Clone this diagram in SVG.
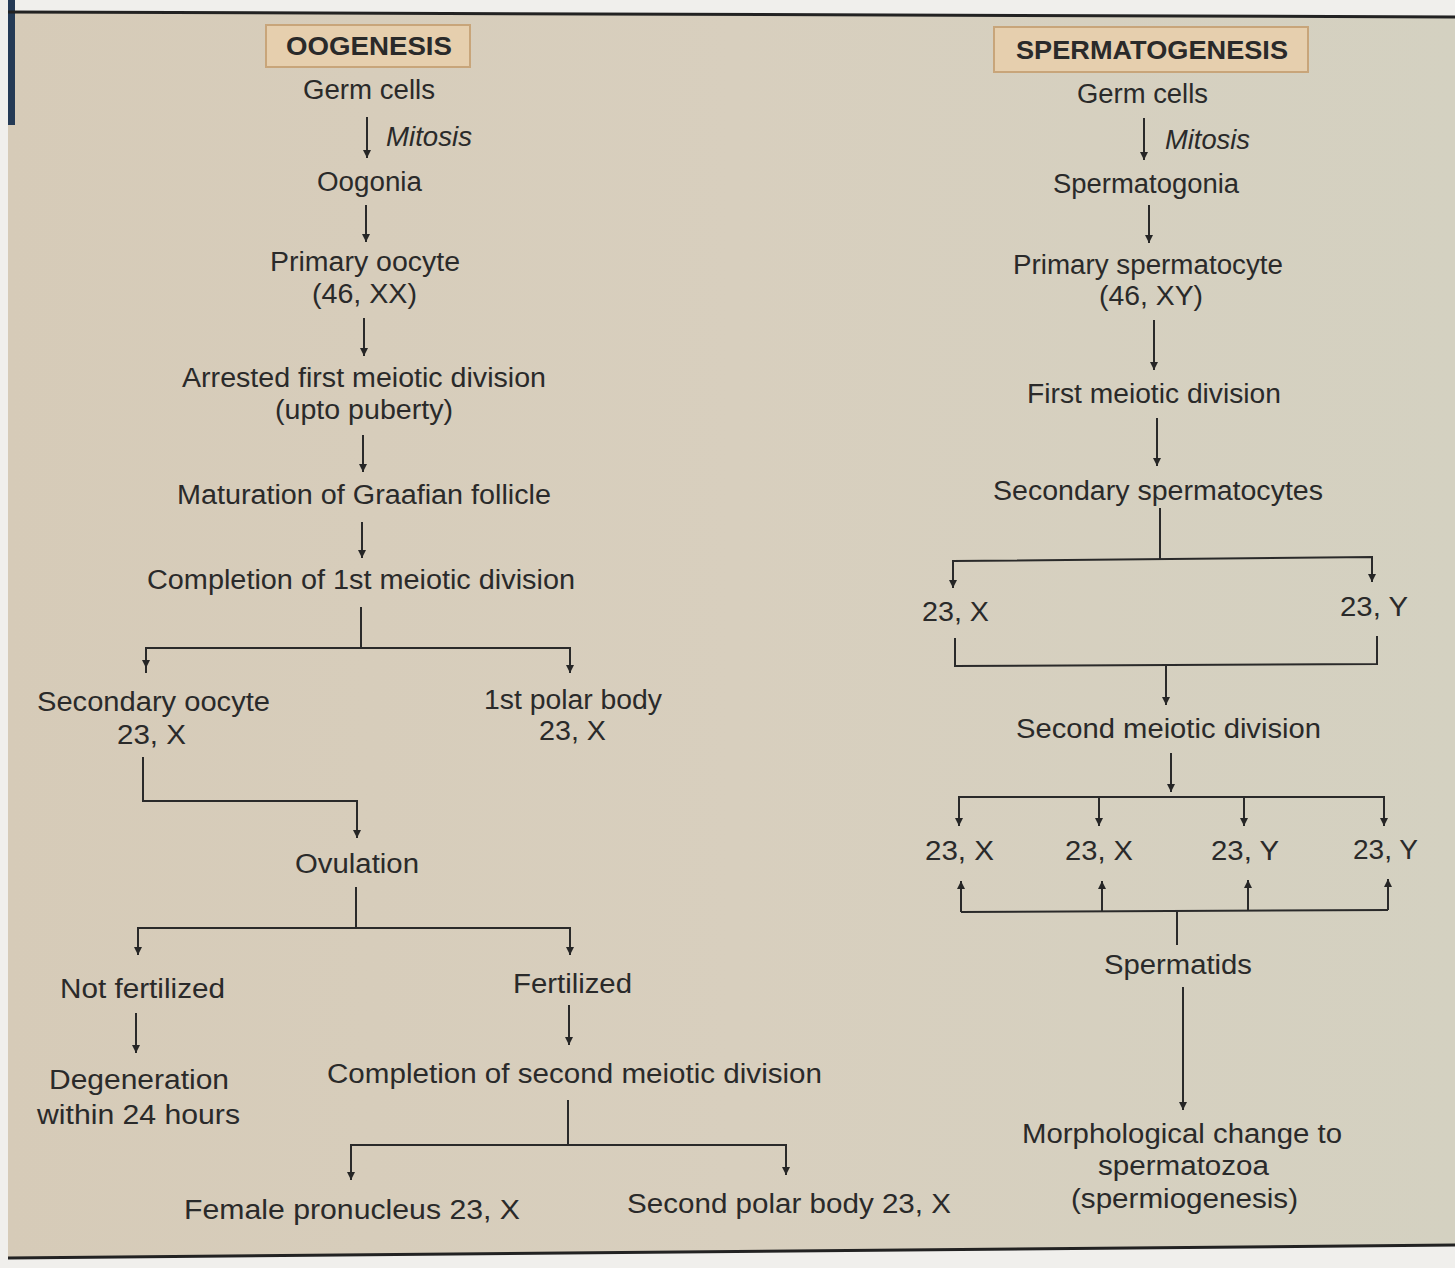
<svg xmlns="http://www.w3.org/2000/svg" width="1455" height="1268" viewBox="0 0 1455 1268">
<defs>
<marker id="ah" markerUnits="userSpaceOnUse" markerWidth="9" markerHeight="9" refX="8" refY="4" orient="auto">
<path d="M0,0 L8,4 L0,8 z" fill="#262626"/>
</marker>
<linearGradient id="bg" x1="0" y1="0" x2="1" y2="0">
<stop offset="0" stop-color="#d6cbb8"/>
<stop offset="0.5" stop-color="#d8cfbe"/>
<stop offset="1" stop-color="#d4d1c1"/>
</linearGradient>
<style>
text{font-family:"Liberation Sans",Arial,sans-serif;font-size:27px;fill:#2a2a2a}
.h{font-weight:bold;font-size:26px}
.i{font-style:italic}
.c line,.c polyline{stroke:#2a2a2a;stroke-width:2;fill:none}
.a{marker-end:url(#ah)}
.hb{fill:#e6cfae;stroke:#c8a57a;stroke-width:2}
</style>
</defs>
<rect x="0" y="0" width="1455" height="1268" fill="#f0efec"/>
<polygon points="8,12 1455,17 1455,1245 8,1258" fill="url(#bg)"/>
<rect x="8" y="0" width="7" height="125" fill="#243a55"/>
<line x1="8" y1="12" x2="1455" y2="17" stroke="#222" stroke-width="3"/>
<line x1="8" y1="1258" x2="1455" y2="1245" stroke="#222" stroke-width="3"/>

<g class="c" id="connectors">
<line class="a" x1="367" y1="117" x2="367" y2="158"/>
<line class="a" x1="366" y1="205" x2="366" y2="242"/>
<line class="a" x1="364" y1="318" x2="364" y2="356"/>
<line class="a" x1="363" y1="435" x2="363" y2="472"/>
<line class="a" x1="362" y1="522" x2="362" y2="558"/>
<line x1="361" y1="607" x2="361" y2="648"/>
<polyline class="a" points="146,673 146,648 570,648 570,673"/>
<line class="a" x1="146" y1="648" x2="146" y2="668"/>
<polyline class="a" points="143,757 143,801 357,801 357,838"/>
<line x1="356" y1="887" x2="356" y2="928"/>
<polyline class="a" points="138,955 138,928 570,928 570,955"/>
<line class="a" x1="138" y1="928" x2="138" y2="955"/>
<line class="a" x1="136" y1="1013" x2="136" y2="1053"/>
<line class="a" x1="569" y1="1005" x2="569" y2="1045"/>
<line x1="568" y1="1100" x2="568" y2="1145"/>
<polyline class="a" points="351,1180 351,1145 786,1145 786,1175"/>
<line class="a" x1="351" y1="1145" x2="351" y2="1180"/>

<line class="a" x1="1144" y1="118" x2="1144" y2="160"/>
<line class="a" x1="1149" y1="205" x2="1149" y2="243"/>
<line class="a" x1="1154" y1="320" x2="1154" y2="370"/>
<line class="a" x1="1157" y1="418" x2="1157" y2="466"/>
<line x1="1160" y1="508" x2="1160" y2="559"/>
<polyline class="a" points="953,588 953,561 1372,557 1372,582"/>
<line class="a" x1="953" y1="561" x2="953" y2="588"/>
<polyline points="955,638 955,666 1377,664 1377,636"/>
<line class="a" x1="1166" y1="665" x2="1166" y2="705"/>
<line class="a" x1="1171" y1="753" x2="1171" y2="792"/>
<polyline points="959,825 959,797 1384,797 1384,825"/>
<line class="a" x1="959" y1="797" x2="959" y2="826"/>
<line class="a" x1="1099" y1="797" x2="1099" y2="826"/>
<line class="a" x1="1244" y1="797" x2="1244" y2="826"/>
<line class="a" x1="1384" y1="797" x2="1384" y2="826"/>
<polyline points="961,912 1388,910"/>
<line class="a" x1="961" y1="912" x2="961" y2="881"/>
<line class="a" x1="1102" y1="912" x2="1102" y2="881"/>
<line class="a" x1="1248" y1="911" x2="1248" y2="880"/>
<line class="a" x1="1388" y1="910" x2="1388" y2="879"/>
<line x1="1177" y1="911" x2="1177" y2="945"/>
<line class="a" x1="1183" y1="987" x2="1183" y2="1110"/>
</g>

<g id="oogenesis-title"><rect class="hb" x="266" y="25" width="204" height="42"/><text class="h" x="286" y="55" textLength="166" lengthAdjust="spacingAndGlyphs">OOGENESIS</text></g>
<g id="o-germ"><text x="303" y="99" textLength="132" lengthAdjust="spacingAndGlyphs">Germ cells</text></g>
<g id="o-mitosis"><text class="i" x="386" y="146" textLength="86" lengthAdjust="spacingAndGlyphs">Mitosis</text></g>
<g id="o-oogonia"><text x="317" y="191" textLength="105" lengthAdjust="spacingAndGlyphs">Oogonia</text></g>
<g id="o-primary"><text x="270" y="271" textLength="190" lengthAdjust="spacingAndGlyphs">Primary oocyte</text><text x="312" y="303" textLength="105" lengthAdjust="spacingAndGlyphs">(46, XX)</text></g>
<g id="o-arrested"><text x="182" y="387" textLength="364" lengthAdjust="spacingAndGlyphs">Arrested first meiotic division</text><text x="275" y="419" textLength="178" lengthAdjust="spacingAndGlyphs">(upto puberty)</text></g>
<g id="o-maturation"><text x="177" y="504" textLength="374" lengthAdjust="spacingAndGlyphs">Maturation of Graafian follicle</text></g>
<g id="o-completion1"><text x="147" y="589" textLength="428" lengthAdjust="spacingAndGlyphs">Completion of 1st meiotic division</text></g>
<g id="o-secondary"><text x="37" y="711" textLength="233" lengthAdjust="spacingAndGlyphs">Secondary oocyte</text><text x="117" y="744" textLength="69" lengthAdjust="spacingAndGlyphs">23, X</text></g>
<g id="o-polar1"><text x="484" y="709" textLength="178" lengthAdjust="spacingAndGlyphs">1st polar body</text><text x="539" y="740" textLength="67" lengthAdjust="spacingAndGlyphs">23, X</text></g>
<g id="o-ovulation"><text x="295" y="873" textLength="124" lengthAdjust="spacingAndGlyphs">Ovulation</text></g>
<g id="o-notfert"><text x="60" y="998" textLength="165" lengthAdjust="spacingAndGlyphs">Not fertilized</text></g>
<g id="o-fert"><text x="513" y="993" textLength="119" lengthAdjust="spacingAndGlyphs">Fertilized</text></g>
<g id="o-degeneration"><text x="49" y="1089" textLength="180" lengthAdjust="spacingAndGlyphs">Degeneration</text><text x="37" y="1124" textLength="203" lengthAdjust="spacingAndGlyphs">within 24 hours</text></g>
<g id="o-completion2"><text x="327" y="1083" textLength="495" lengthAdjust="spacingAndGlyphs">Completion of second meiotic division</text></g>
<g id="o-female"><text x="184" y="1219" textLength="336" lengthAdjust="spacingAndGlyphs">Female pronucleus 23, X</text></g>
<g id="o-polar2"><text x="627" y="1213" textLength="324" lengthAdjust="spacingAndGlyphs">Second polar body 23, X</text></g>

<g id="spermatogenesis-title"><rect class="hb" x="994" y="27" width="314" height="45"/><text class="h" x="1016" y="59" textLength="272" lengthAdjust="spacingAndGlyphs">SPERMATOGENESIS</text></g>
<g id="s-germ"><text x="1077" y="103" textLength="131" lengthAdjust="spacingAndGlyphs">Germ cells</text></g>
<g id="s-mitosis"><text class="i" x="1165" y="149" textLength="85" lengthAdjust="spacingAndGlyphs">Mitosis</text></g>
<g id="s-spermatogonia"><text x="1053" y="193" textLength="186" lengthAdjust="spacingAndGlyphs">Spermatogonia</text></g>
<g id="s-primary"><text x="1013" y="274" textLength="270" lengthAdjust="spacingAndGlyphs">Primary spermatocyte</text><text x="1099" y="305" textLength="104" lengthAdjust="spacingAndGlyphs">(46, XY)</text></g>
<g id="s-first"><text x="1027" y="403" textLength="254" lengthAdjust="spacingAndGlyphs">First meiotic division</text></g>
<g id="s-secondary"><text x="993" y="500" textLength="330" lengthAdjust="spacingAndGlyphs">Secondary spermatocytes</text></g>
<g id="s-x1"><text x="922" y="621" textLength="67" lengthAdjust="spacingAndGlyphs">23, X</text></g>
<g id="s-y1"><text x="1340" y="616" textLength="68" lengthAdjust="spacingAndGlyphs">23, Y</text></g>
<g id="s-second"><text x="1016" y="738" textLength="305" lengthAdjust="spacingAndGlyphs">Second meiotic division</text></g>
<g id="s-t1"><text x="925" y="860" textLength="69" lengthAdjust="spacingAndGlyphs">23, X</text></g>
<g id="s-t2"><text x="1065" y="860" textLength="68" lengthAdjust="spacingAndGlyphs">23, X</text></g>
<g id="s-t3"><text x="1211" y="860" textLength="68" lengthAdjust="spacingAndGlyphs">23, Y</text></g>
<g id="s-t4"><text x="1353" y="859" textLength="65" lengthAdjust="spacingAndGlyphs">23, Y</text></g>
<g id="s-spermatids"><text x="1104" y="974" textLength="148" lengthAdjust="spacingAndGlyphs">Spermatids</text></g>
<g id="s-morph"><text x="1022" y="1143" textLength="320" lengthAdjust="spacingAndGlyphs">Morphological change to</text><text x="1098" y="1175" textLength="171" lengthAdjust="spacingAndGlyphs">spermatozoa</text><text x="1071" y="1208" textLength="227" lengthAdjust="spacingAndGlyphs">(spermiogenesis)</text></g>
</svg>
